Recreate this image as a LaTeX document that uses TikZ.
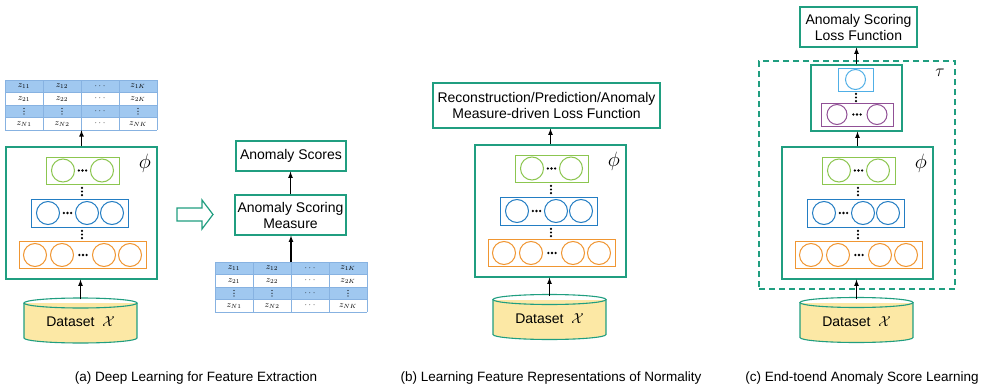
\documentclass[tikz,border=0pt]{standalone}
\usepackage{fontspec}
\setmainfont{Liberation Sans}
\tikzset{>=latex}
\definecolor{clt}{RGB}{32,158,128}
\definecolor{clgreen}{RGB}{140,198,80}
\definecolor{clblue}{RGB}{35,125,195}
\definecolor{clorange}{RGB}{240,150,50}
\definecolor{clpurple}{RGB}{145,80,150}
\definecolor{clsky}{RGB}{80,175,230}
\definecolor{clyel}{RGB}{252,232,165}
\definecolor{cltab}{RGB}{160,200,240}
\definecolor{cltabl}{RGB}{135,178,225}
\tikzset{
  tealbox/.style={draw=clt, line width=1.1pt, fill=white, inner sep=0pt, align=center, font=\fontsize{14}{16}\selectfont},
  layerbox/.style={draw=#1, line width=1pt, inner sep=0pt, fill=white},
  neuron/.style={draw=#1, line width=1pt, circle, inner sep=0pt, minimum size=23pt},
  link/.style={->, line width=1.2pt},
  zcell/.style={inner sep=0pt, font=\fontsize{9}{10}\selectfont},
  tabline/.style={draw=cltabl, line width=.7pt},
  figcap/.style={font=\fontsize{13.5}{15}\selectfont}
}
\newcommand*{\rowdots}[2]{\foreach \d in {-3.6,0,3.6} \fill (#1+\d,#2) circle (1.3);}
\newcommand*{\coldots}[2]{\foreach \d in {-3.6,0,3.6} \fill (#1,#2+\d) circle (1.2);}
\newcommand*{\ztable}[3]{%
  \begin{scope}[shift={(#2,#3)}]
    \fill[cltab] (0,0) rectangle (152,12.5) (0,25) rectangle (152,37.5);
    \foreach \c in {0,38,76,114,152} \draw[tabline] (\c,0) -- (\c,50);
    \foreach \r in {0,12.5,25,37.5,50} \draw[tabline] (0,\r) -- (152,\r);
    \foreach \rw/\ri in {1/0,2/1,N/3} \foreach \cl/\ci in {1/0,2/1,K/3}
      \node[zcell] (#1-\rw\cl) at (19+38*\ci,6.25+12.5*\ri) {$z_{\rw\cl}$};
    \foreach \ri in {0,...,3} \node[zcell] (#1-d\ri) at (95,6.25+12.5*\ri) {$\cdots$};
    \foreach \ci in {0,1,3} \foreach \d in {-2.8,0,2.8} \fill (19+38*\ci,31.25+\d) circle (.6);
    \node[inner sep=0pt, minimum width=152pt, minimum height=50pt] (#1) at (76,25) {};
  \end{scope}}
\newcommand*{\encoder}[3]{%
  \begin{scope}[shift={(#2,#3)}]
    \node[tealbox, minimum width=151pt, minimum height=132pt] (#1) at (75.5,66) {};
    \node[layerbox=clgreen, minimum width=73pt, minimum height=27pt] (#1-l3) at (76.5,23.5) {};
    \node[layerbox=clblue, minimum width=97pt, minimum height=28pt] (#1-l2) at (73.5,66) {};
    \node[layerbox=clorange, minimum width=127pt, minimum height=27pt] (#1-l1) at (76.5,108) {};
    \foreach \x in {57,96} \node[neuron=clgreen] (#1-g\x) at (\x,23.5) {};
    \foreach \x in {42,81,106} \node[neuron=clblue] (#1-b\x) at (\x,66) {};
    \foreach \x in {29,56,98,124} \node[neuron=clorange] (#1-o\x) at (\x,108) {};
    \rowdots{76.5}{23.5} \rowdots{61.5}{66} \rowdots{77}{108}
    \coldots{76}{44.5} \coldots{76}{87.5}
    \node (#1-phi) at (139,16) {\fontsize{20}{20}\selectfont$\phi$};
  \end{scope}}
\newcommand*{\dataset}[3]{%
  \fill[clyel] (#2-56.5,#3-17.5) rectangle (#2+56.5,#3+17.5);
  \fill[clyel] (#2,#3+17.5) ellipse [x radius=56.5, y radius=5];
  \draw[clt, line width=1.1pt] (#2-56.5,#3-17.5) -- (#2-56.5,#3+17.5) arc [start angle=180, end angle=0, x radius=56.5, y radius=5] -- (#2+56.5,#3-17.5);
  \draw[clt, line width=1.1pt] (#2,#3-17.5) ellipse [x radius=56.5, y radius=5];
  \node[inner sep=0pt, minimum width=113pt, minimum height=45pt, font=\fontsize{14}{16}\selectfont] (#1) at (#2,#3+1.5) {Dataset\ \ $\mathcal{X}$};}

\begin{document}
\begin{tikzpicture}[x=1pt, y=-1pt]
    \useasboundingbox (0,0) rectangle (986,388);
    % (a) feature extraction
    \ztable{taba}{5}{80}
    \encoder{enca}{6}{147}
    \dataset{dsa}{80.5}{320.5}
    \draw[link] (enca.north) -- (enca.north |- taba.south);
    \draw[link] (dsa.north) -- (dsa.north |- enca.south);
    \draw[clt, line width=1.2pt, fill=white] (177,208)--(202,208)--(202,200)--(213,214.5)--(202,229)--(202,221)--(177,221)--cycle;
    \node[tealbox, minimum width=110pt, minimum height=30pt] (score) at (291,156) {Anomaly Scores};
    \node[tealbox, minimum width=111pt, minimum height=40pt] (measure) at (290.5,215) {Anomaly Scoring\\Measure};
    \ztable{tabb}{215}{262}
    \draw[link] (tabb.north) -- (tabb.north |- measure.south);
    \draw[link] (measure.north) -- (measure.north |- score.south);
    % (b) normality
    \node[tealbox, minimum width=227pt, minimum height=45pt] (lossb) at (546.5,105.5) {Reconstruction/Prediction/Anomaly\\Measure-driven Loss Function};
    \encoder{encb}{475}{145}
    \dataset{dsb}{549.5}{317}
    \draw[link] (encb.north) -- (encb.north |- lossb.south);
    \draw[link] (dsb.north) -- (dsb.north |- encb.south);
    % (c) end-to-end
    \node[tealbox, minimum width=117pt, minimum height=40pt] (lossc) at (858.5,27) {Anomaly Scoring\\Loss Function};
    \node[draw=clt, line width=1.1pt, dash pattern=on 6pt off 4pt, minimum width=196pt, minimum height=228pt, inner sep=0pt] (tauc) at (857,175) {};
    \node (tauc-lbl) at (940,73) {\fontsize{19}{19}\selectfont$\tau$};
    \node[tealbox, minimum width=91pt, minimum height=66pt] (upc) at (856.5,98) {};
    \node[layerbox=clsky, minimum width=35pt, minimum height=23pt] (upc-l2) at (855.5,79.5) {};
    \node[neuron=clsky, minimum size=20pt] (upc-s) at (855.5,79.5) {};
    \coldots{856}{97.5}
    \node[layerbox=clpurple, minimum width=72pt, minimum height=23pt] (upc-l1) at (857,114.5) {};
    \foreach \x in {837,877} \node[neuron=clpurple, minimum size=20pt] (upc-p\x) at (\x,114.5) {};
    \rowdots{857}{114.5}
    \encoder{encc}{782}{147}
    \dataset{dsc}{856.5}{320}
    \draw[link] (encc.north) -- (encc.north |- upc.south);
    \draw[link] (upc.north) -- (upc.north |- lossc.south);
    \draw[link] (dsc.north) -- (dsc.north |- encc.south);
    % captions
    \node[figcap] (capa) at (196,378) {(a) Deep Learning for Feature Extraction};
    \node[figcap] (capb) at (551,378) {(b) Learning Feature Representations of Normality};
    \node[figcap] (capc) at (862,378) {(c) End-toend Anomaly Score Learning};
\end{tikzpicture}
\end{document}
